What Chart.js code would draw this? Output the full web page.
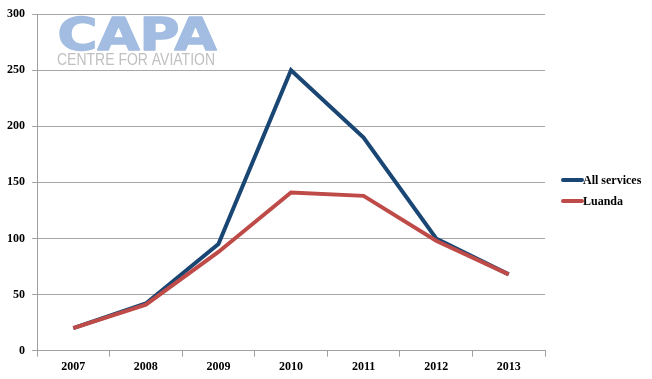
<!DOCTYPE html>
<html>
<head>
<meta charset="utf-8">
<script src="https://cdn.jsdelivr.net/npm/chart.js@4/dist/chart.umd.min.js"></script>
<style>
html,body{margin:0;padding:0;background:#fff;}
#wrap{width:652px;height:379px;position:relative;}
</style>
</head>
<body>
<div id="wrap"><canvas id="c" width="652" height="379"></canvas></div>
<script>
const years = ["2007","2008","2009","2010","2011","2012","2013"];
const allServices = [20, 42, 95, 250, 190, 100, 68];
const luanda = [20, 41, 88, 141, 138, 98, 68];
const seriesNames = ["All services", "Luanda"];
const seriesColors = ["#1a4674", "#be4b48"];
const yTicks = [0, 50, 100, 150, 200, 250, 300];

const serif = '"Liberation Serif", "Times New Roman", serif';

const logoPlugin = {
  id: 'logo',
  beforeDatasetsDraw(chart) {
    const ctx = chart.ctx;
    ctx.save();
    ctx.fillStyle = '#a2bde1';
    ctx.strokeStyle = '#a2bde1';
    ctx.lineWidth = 1.5;
    ctx.lineJoin = 'round';
    ctx.font = 'bold 45px "DejaVu Sans"';
    ctx.textBaseline = 'alphabetic';
    const t = 'CAPA';
    const w = ctx.measureText(t).width;
    ctx.translate(57.5, 50);
    ctx.scale(159 / w, 1);
    ctx.fillText(t, 0, 0);
    ctx.strokeText(t, 0, 0);
    ctx.restore();
    ctx.save();
    ctx.fillStyle = '#c0c0c0';
    ctx.font = '16px "Liberation Sans"';
    const t2 = 'CENTRE FOR AVIATION';
    const w2 = ctx.measureText(t2).width;
    ctx.translate(57, 64.5);
    ctx.scale(158 / w2, 1);
    ctx.fillText(t2, 0, 0);
    ctx.restore();
  }
};

const legendPlugin = {
  id: 'sideLegend',
  afterDraw(chart) {
    const ctx = chart.ctx;
    ctx.save();
    chart.data.datasets.forEach((ds, i) => {
      const y = 180 + i * 21;
      ctx.strokeStyle = ds.borderColor;
      ctx.lineWidth = 4;
      ctx.lineCap = 'round';
      ctx.beginPath();
      ctx.moveTo(563, y);
      ctx.lineTo(582, y);
      ctx.stroke();
      ctx.fillStyle = '#000';
      ctx.font = 'bold 12px ' + serif;
      ctx.textBaseline = 'middle';
      ctx.fillText(ds.label, 583, y + 1);
    });
    ctx.restore();
  }
};

const fontTick = { family: serif, size: 12, weight: 'bold' };

new Chart(document.getElementById('c'), {
  type: 'line',
  data: {
    labels: years,
    datasets: [
      { label: seriesNames[0], data: allServices, borderColor: seriesColors[0], backgroundColor: seriesColors[0],
        borderWidth: 4, pointRadius: 0, tension: 0, order: 1 },
      { label: seriesNames[1], data: luanda, borderColor: seriesColors[1], backgroundColor: seriesColors[1],
        borderWidth: 4, pointRadius: 0, tension: 0, order: 0 }
    ]
  },
  options: {
    responsive: false,
    animation: false,
    layout: { padding: { top: 7, right: 107, left: 0, bottom: 2 } },
    plugins: {
      tooltip: { enabled: false },
      legend: { display: false }
    },
    scales: {
      x: {
        offset: true,
        grid: { display: true, drawOnChartArea: false, drawTicks: true, offset: true, tickLength: 6, color: '#a0a0a0' },
        border: { display: true, color: '#a0a0a0' },
        ticks: { color: '#000', font: fontTick, padding: 3, maxRotation: 0 }
      },
      y: {
        min: 0, max: 300,
        afterBuildTicks(scale) { scale.ticks = yTicks.map(v => ({ value: v })); },
        grid: { color: '#a6a6a6', lineWidth: 1, tickLength: 5, drawTicks: true },
        border: { display: true, color: '#a0a0a0' },
        ticks: { color: '#000', font: fontTick, padding: 7 }
      }
    }
  },
  plugins: [logoPlugin, legendPlugin]
});
</script>
</body>
</html>
